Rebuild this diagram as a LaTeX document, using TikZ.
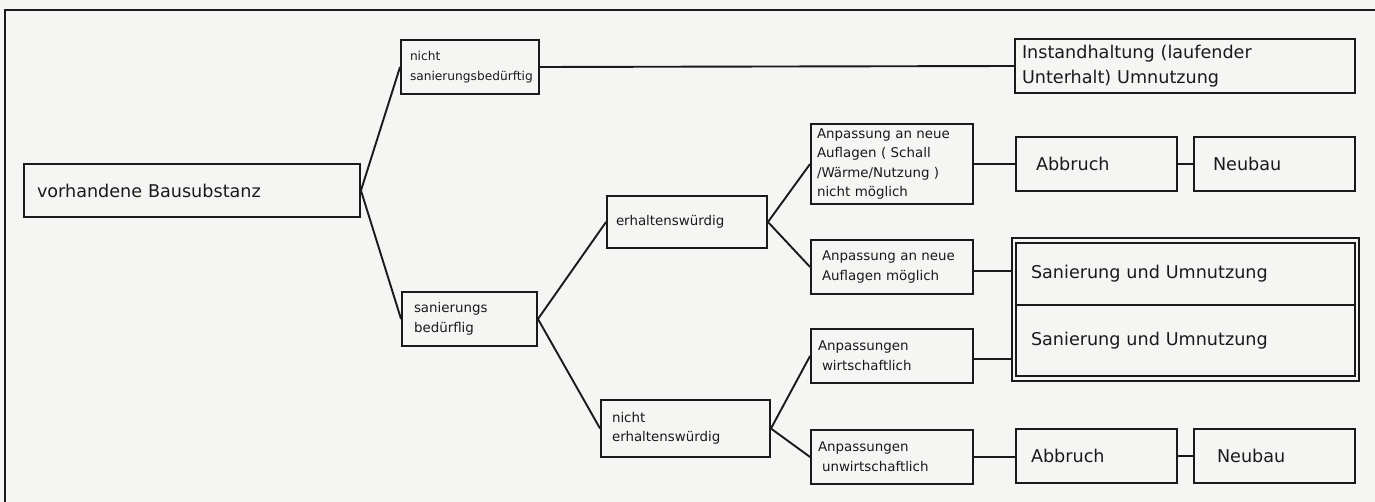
\documentclass[tikz,border=0pt]{standalone}
\usepackage{fontspec}
\setmainfont{DejaVu Sans}
\definecolor{paper}{HTML}{F5F5F4}
\definecolor{ink}{HTML}{1A1A1A}
\tikzset{
  bx/.style={draw=ink, line width=0.95pt, fill=paper, inner ysep=0pt, align=left, text=ink},
  big/.style={font=\fontsize{8.8}{12.5}\selectfont},
  small/.style={font=\fontsize{6.7}{9.8}\selectfont},
  tiny/.style={font=\fontsize{6.1}{9.8}\selectfont},
  conn/.style={draw=ink, line width=0.95pt},
  frame/.style={draw=ink, line width=0.95pt},
}
\begin{document}
\begin{tikzpicture}[x=0.5pt,y=-0.5pt]
\fill[paper] (0,0) rectangle (1375,502);
\useasboundingbox (0,0) rectangle (1375,502);
\draw[frame] (5,502) -- (5,10) -- (1375,10);

\node[bx,big,minimum width=168pt,minimum height=26.5pt,inner xsep=6.5pt,text width=155pt] (sub) at (192,190.5) {vorhandene Bausubstanz};
\node[bx,tiny,minimum width=69pt,minimum height=27pt,inner xsep=4.5pt,text width=60pt] (ns) at (470,67) {nicht\\sanierungsbedürftig};
\node[bx,big,minimum width=170pt,minimum height=27pt,inner xsep=3.5pt,text width=163pt] (inst) at (1185,66) {Instandhaltung (laufender\\Unterhalt) Umnutzung};
\node[bx,small,minimum width=67.5pt,minimum height=27pt,inner xsep=6pt,text width=55.5pt] (sb) at (469.5,319) {sanierungs\\bedürflig};
\node[bx,small,minimum width=80pt,minimum height=26pt,inner xsep=4.5pt,text width=71pt] (ew) at (687,222) {erhaltenswürdig};
\node[bx,small,minimum width=84.5pt,minimum height=28.5pt,inner xsep=5.5pt,text width=73.5pt] (new) at (685.5,428.5) {nicht\\erhaltenswürdig};

\node[bx,small,minimum width=81pt,minimum height=40pt,inner xsep=3pt,text width=75pt] (a1) at (892,164) {Anpassung an neue\\Auflagen ( Schall\\/Wärme/Nutzung )\\nicht möglich};
\node[bx,small,minimum width=81pt,minimum height=27pt,inner xsep=5.5pt,text width=70pt] (a2) at (892,267) {Anpassung an neue\\Auflagen möglich};
\node[bx,small,minimum width=81pt,minimum height=27pt,inner xsep=3.5pt,text width=74pt] (a3) at (892,356) {Anpassungen\\\hspace*{2pt}wirtschaftlich};
\node[bx,small,minimum width=81pt,minimum height=27pt,inner xsep=3.5pt,text width=74pt] (a4) at (892,457) {Anpassungen\\\hspace*{2pt}unwirtschaftlich};

\node[bx,big,minimum width=80.5pt,minimum height=27pt,inner xsep=10pt,text width=60.5pt] (ab1) at (1096.5,164) {Abbruch};
\node[bx,big,minimum width=80.5pt,minimum height=27pt,inner xsep=9.5pt,text width=61.5pt] (nb1) at (1274.5,164) {Neubau};

\node[draw=ink,line width=0.8pt,fill=paper,minimum width=173.5pt,minimum height=71.5pt,inner sep=0pt] (dbl) at (1185.5,309.5) {};
\node[bx,big,line width=0.8pt,minimum width=169.5pt,minimum height=31pt,inner xsep=7.5pt,text width=154.5pt] (s1) at (1185.5,274) {Sanierung und Umnutzung};
\node[bx,big,line width=0.8pt,minimum width=169.5pt,minimum height=35.5pt,inner xsep=7.5pt,text width=154.5pt] (s2) at (1185.5,340.5) {Sanierung und Umnutzung};

\node[bx,big,minimum width=80.5pt,minimum height=27pt,inner xsep=7.5pt,text width=65.5pt] (ab2) at (1096.5,456) {Abbruch};
\node[bx,big,minimum width=80.5pt,minimum height=27pt,inner xsep=11.5pt,text width=57.5pt] (nb2) at (1274.5,456) {Neubau};

\draw[conn] (sub.east) -- (ns.west);
\draw[conn] (sub.east) -- (sb.west);
\draw[conn] (ns.east) -- (inst.west);
\draw[conn] (sb.east) -- (ew.west);
\draw[conn] (sb.east) -- (new.west);
\draw[conn] (ew.east) -- (a1.west);
\draw[conn] (ew.east) -- (a2.west);
\draw[conn] (new.east) -- (a3.west);
\draw[conn] (new.east) -- (a4.west);
\draw[conn] (a1.east) -- (ab1.west);
\draw[conn] (ab1.east) -- (nb1.west);
\draw[conn] ([yshift=-2pt]a2.east) -- ([yshift=-2pt]a2.east -| dbl.west);
\draw[conn] ([yshift=-1.5pt]a3.east) -- ([yshift=-1.5pt]a3.east -| dbl.west);
\draw[conn] (a4.east) -- (a4.east -| ab2.west);
\draw[conn] (ab2.east) -- (nb2.west);
\end{tikzpicture}
\end{document}
